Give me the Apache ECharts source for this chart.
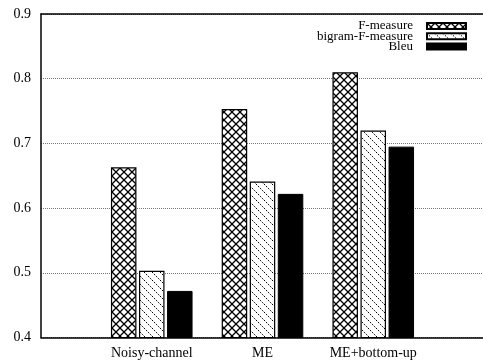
<!DOCTYPE html>
<html><head><meta charset="utf-8">
<script src="https://cdn.jsdelivr.net/npm/echarts@6/dist/echarts.min.js"></script>
<style>html,body{margin:0;padding:0;background:#fff}#c{width:483px;height:361px}</style>
</head><body><div id="c"></div>
<script>
var categories = ['Noisy-channel', 'ME', 'ME+bottom-up'];
var fMeasure = [0.663, 0.753, 0.810];
var bigramF = [0.503, 0.641, 0.720];
var bleu = [0.472, 0.622, 0.695];
var yTicks = [0.4, 0.5, 0.6, 0.7, 0.8, 0.9];

function makeCross() {
  var c = document.createElement('canvas'); c.width = 8; c.height = 8;
  var g = c.getContext('2d');
  g.fillStyle = '#fff'; g.fillRect(0, 0, 8, 8);
  g.strokeStyle = '#000'; g.lineWidth = 1.3;
  g.beginPath();
  g.moveTo(-1, -1); g.lineTo(9, 9);
  g.moveTo(9, -1); g.lineTo(-1, 9);
  g.stroke();
  return c;
}
function makeDiag() {
  var c = document.createElement('canvas'); c.width = 8; c.height = 8;
  var g = c.getContext('2d');
  g.fillStyle = '#fff'; g.fillRect(0, 0, 8, 8);
  g.strokeStyle = '#000'; g.lineWidth = 1;
  g.setLineDash([1.5, 1.2]);
  g.beginPath();
  g.moveTo(0, 0); g.lineTo(8, 8);
  g.stroke();
  return c;
}
var font = 'Liberation Serif';
var chart = echarts.init(document.getElementById('c'));
var W = 443;
chart.setOption({
  animation: false,
  backgroundColor: '#fff',
  textStyle: { fontFamily: font },
  grid: [
    { left: 41, width: W, top: 14, bottom: 23.5 },
    { left: 41 + W / 8, width: W * 0.75, top: 14, bottom: 23.5 }
  ],
  legend: {
    right: 16, top: 19.5, orient: 'vertical', align: 'right', padding: 0,
    icon: 'rect',
    itemWidth: 39, itemHeight: 6, itemGap: -2.7,
    textStyle: { fontFamily: font, fontSize: 13, color: '#000', padding: [0, 9, 0, 0] },
    data: ['F-measure', 'bigram-F-measure', 'Bleu']
  },
  xAxis: [
    { type: 'value', gridIndex: 0, min: 0, max: 1, position: 'bottom',
      axisLine: { show: true, lineStyle: { color: '#000', width: 1.5 } },
      axisTick: { show: false }, axisLabel: { show: false }, splitLine: { show: false } },
    { type: 'value', gridIndex: 0, min: 0, max: 1, position: 'top',
      axisLine: { show: true, lineStyle: { color: '#000', width: 1.5 } },
      axisTick: { show: false }, axisLabel: { show: false }, splitLine: { show: false } },
    { type: 'category', gridIndex: 1, data: categories,
      axisLine: { show: false }, axisTick: { show: false },
      axisLabel: { interval: 0, fontFamily: font, fontSize: 14, color: '#000', margin: 9 } }
  ],
  yAxis: [
    { type: 'value', gridIndex: 0, min: 0.4, max: 0.9, interval: 0.1,
      axisLine: { show: true, lineStyle: { color: '#000', width: 1.5 } },
      axisTick: { show: false },
      axisLabel: { fontFamily: font, fontSize: 14, color: '#000', margin: 10,
        formatter: function (v) { return yTicks.indexOf(Math.round(v * 10) / 10) >= 0 ? v.toFixed(1) : ''; } },
      splitLine: { show: true, lineStyle: { color: '#777', type: [1, 1], width: 1 } } },
    { type: 'value', gridIndex: 1, min: 0.4, max: 0.9, show: false, splitLine: { show: false } }
  ],
  series: [
    { name: 'F-measure', type: 'bar', xAxisIndex: 2, yAxisIndex: 1, data: fMeasure,
      barWidth: 25.5, barGap: '10%',
      itemStyle: { color: { image: makeCross(), repeat: 'repeat' }, borderColor: '#000', borderWidth: 1.2 } },
    { name: 'bigram-F-measure', type: 'bar', xAxisIndex: 2, yAxisIndex: 1, data: bigramF,
      barWidth: 25.5, barGap: '10%',
      itemStyle: { color: { image: makeDiag(), repeat: 'repeat' }, borderColor: '#000', borderWidth: 1.2 } },
    { name: 'Bleu', type: 'bar', xAxisIndex: 2, yAxisIndex: 1, data: bleu,
      barWidth: 25.5, barGap: '10%',
      itemStyle: { color: '#000', borderColor: '#000', borderWidth: 1 } }
  ]
});
</script></body></html>
